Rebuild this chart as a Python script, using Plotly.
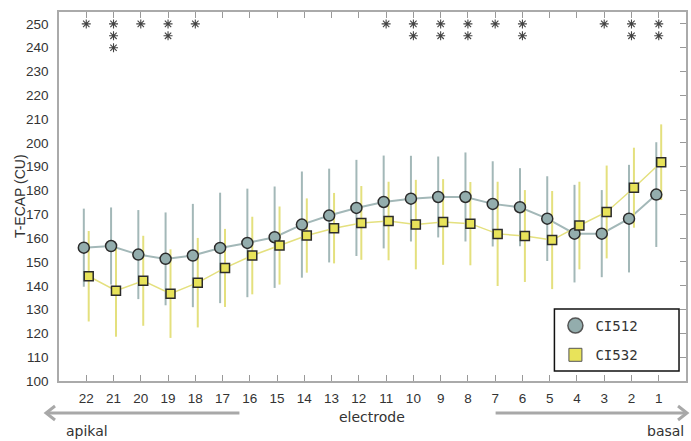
import plotly.graph_objects as go

electrodes = [22, 21, 20, 19, 18, 17, 16, 15, 14, 13, 12, 11, 10, 9, 8, 7, 6, 5, 4, 3, 2, 1]
ci512_mean = [156.0, 156.7, 153.1, 151.3, 152.7, 155.9, 158.0, 160.4, 165.7, 169.5, 172.7,
              175.2, 176.6, 177.3, 177.3, 174.4, 173.0, 168.2, 161.9, 161.9, 168.2, 178.3]
ci512_sd = [16.4, 16.2, 18.7, 19.5, 21.7, 23.2, 22.8, 21.3, 22.3, 19.7, 20.2,
            19.5, 18.0, 17.0, 18.7, 17.9, 16.4, 17.8, 20.5, 18.3, 22.6, 22.0]
ci532_mean = [144.0, 137.9, 142.1, 136.7, 141.3, 147.5, 152.7, 156.9, 161.1, 164.2, 166.4,
              167.2, 165.7, 166.8, 166.1, 161.8, 160.9, 159.2, 165.3, 171.0, 181.2, 191.9]
ci532_sd = [19.0, 19.3, 18.9, 18.6, 18.8, 16.4, 16.3, 16.4, 15.6, 14.8, 15.5,
            16.5, 18.8, 18.0, 17.5, 21.9, 19.3, 20.6, 18.4, 19.5, 16.8, 15.9]
stars = [1, 3, 1, 2, 1, 0, 0, 0, 0, 0, 0, 1, 2, 2, 2, 1, 2, 0, 0, 1, 2, 2]
ytick_vals = list(range(100, 251, 10))

GRAY_FILL = "#93adad"
GRAY_LINE = "#a3b8b8"
YEL_FILL = "#e8e35a"
YEL_LINE = "#e4e07e"
EDGE = "#2b2b2b"

pos = list(range(len(electrodes)))
off = 0.09
x512 = [p - off for p in pos]
x532 = [p + off for p in pos]

fig = go.Figure()

# lines + error bars
fig.add_trace(go.Scatter(x=x512, y=ci512_mean, mode="lines", showlegend=False,
                         line=dict(color=GRAY_LINE, width=2),
                         error_y=dict(type="data", array=ci512_sd, visible=True,
                                      color=GRAY_LINE, thickness=2, width=0)))
fig.add_trace(go.Scatter(x=x532, y=ci532_mean, mode="lines", showlegend=False,
                         line=dict(color=YEL_LINE, width=1.5),
                         error_y=dict(type="data", array=ci532_sd, visible=True,
                                      color=YEL_LINE, thickness=2, width=0)))
# markers
fig.add_trace(go.Scatter(x=x512, y=ci512_mean, mode="markers", showlegend=False,
                         marker=dict(symbol="circle", size=11, color=GRAY_FILL,
                                     line=dict(color=EDGE, width=1.5))))
fig.add_trace(go.Scatter(x=x532, y=ci532_mean, mode="markers", showlegend=False,
                         marker=dict(symbol="square", size=9, color=YEL_FILL,
                                     line=dict(color=EDGE, width=1.5))))

# significance asterisks
sx, sy = [], []
for p, n in zip(pos, stars):
    for k in range(n):
        sx.append(p)
        sy.append(250 - 5 * k)
fig.add_trace(go.Scatter(x=sx, y=sy, mode="markers", showlegend=False, yaxis="y2",
                         marker=dict(symbol="asterisk-open", size=7.5, color="#444444",
                                     line=dict(color="#444444", width=1.1))))

# legend entries
fig.add_trace(go.Scatter(x=[None], y=[None], mode="markers", name="CI512", legendgroup="a",
                         marker=dict(symbol="circle", size=15, color=GRAY_FILL,
                                     line=dict(color="#555555", width=1.5))))
fig.add_trace(go.Scatter(x=[None], y=[None], mode="markers", name="CI532", legendgroup="b",
                         marker=dict(symbol="square", size=13, color=YEL_FILL,
                                     line=dict(color="#555555", width=1))))

AX = "#aaaaaa"
W, H = 691, 441
L, R, T, B = 59, 3, 12, 60
pw, ph = W - L - R, H - T - B


def px(x):
    return (x - L) / pw


def py(y):
    return (H - B - y) / ph


shapes = []
# legend frame
shapes.append(dict(type="rect", xref="paper", yref="paper", x0=px(556), x1=px(681),
                   y0=py(371), y1=py(309), fillcolor="white", layer="above",
                   line=dict(color="#111111", width=1.5)))
# left arrow (apikal)
shapes.append(dict(type="line", xref="paper", yref="paper", x0=px(240), x1=px(48),
                   y0=py(413), y1=py(413), line=dict(color="#a8a8a8", width=3)))
shapes.append(dict(type="path", xref="paper", yref="paper",
                   path=f"M {px(55)} {py(406)} L {px(46)} {py(413)} L {px(55)} {py(420)}",
                   line=dict(color="#a8a8a8", width=3)))
# right arrow (basal)
shapes.append(dict(type="line", xref="paper", yref="paper", x0=px(497), x1=px(687),
                   y0=py(413), y1=py(413), line=dict(color="#a8a8a8", width=3)))
shapes.append(dict(type="path", xref="paper", yref="paper",
                   path=f"M {px(680)} {py(406)} L {px(689)} {py(413)} L {px(680)} {py(420)}",
                   line=dict(color="#a8a8a8", width=3)))

annotations = [
    dict(text="T-ECAP (CU)", xref="paper", yref="paper", x=px(20), y=py(196),
         textangle=-90, showarrow=False, xanchor="center", yanchor="middle",
         font=dict(family="Liberation Sans, Arial", size=14, color="#333333")),
    dict(text="electrode", xref="paper", yref="paper", x=px(373), y=py(417),
         showarrow=False, xanchor="center", yanchor="middle",
         font=dict(family="DejaVu Sans, Verdana", size=14, color="#333333")),
    dict(text="apikal", xref="paper", yref="paper", x=px(64), y=py(431),
         showarrow=False, xanchor="left", yanchor="middle",
         font=dict(family="DejaVu Sans, Verdana", size=14, color="#333333")),
    dict(text="basal", xref="paper", yref="paper", x=px(688), y=py(431),
         showarrow=False, xanchor="right", yanchor="middle",
         font=dict(family="DejaVu Sans, Verdana", size=14, color="#333333")),
]

fig.update_layout(
    width=W, height=H,
    margin=dict(l=L, r=R, t=T, b=B),
    paper_bgcolor="white", plot_bgcolor="white",
    font=dict(family="Liberation Sans, Arial", size=13.5, color="#333333"),
    xaxis=dict(range=[-1, len(electrodes)], tickvals=pos,
               ticktext=[str(e) for e in electrodes],
               showgrid=False, zeroline=False, showline=True, linecolor=AX, linewidth=1.5,
               mirror="ticks", ticks="inside", ticklen=6, tickcolor="#999999", tickwidth=1,
               ticklabelstandoff=4),
    yaxis=dict(range=[100, 255], tickvals=ytick_vals, showgrid=False, zeroline=False,
               showline=True, linecolor=AX, linewidth=1.5, mirror=True, ticks="",
               ticklabelstandoff=6),
    yaxis2=dict(range=[100, 255], tickvals=ytick_vals, overlaying="y", side="right",
                showgrid=False, zeroline=False, showline=False, ticks="inside", ticklen=6,
                tickcolor="#999999", tickwidth=1, showticklabels=False),
    legend=dict(x=px(557), y=py(310), xanchor="left", yanchor="top",
                bgcolor="rgba(0,0,0,0)", borderwidth=0,
                font=dict(family="DejaVu Sans Mono, DejaVu Sans", size=14, color="#333333"),
                traceorder="grouped", tracegroupgap=8, itemwidth=30),
    shapes=shapes,
    annotations=annotations,
)

fig.write_html("out.html", config={"displayModeBar": False},
               post_script="document.body.style.margin='0';document.body.style.overflow='hidden';")
